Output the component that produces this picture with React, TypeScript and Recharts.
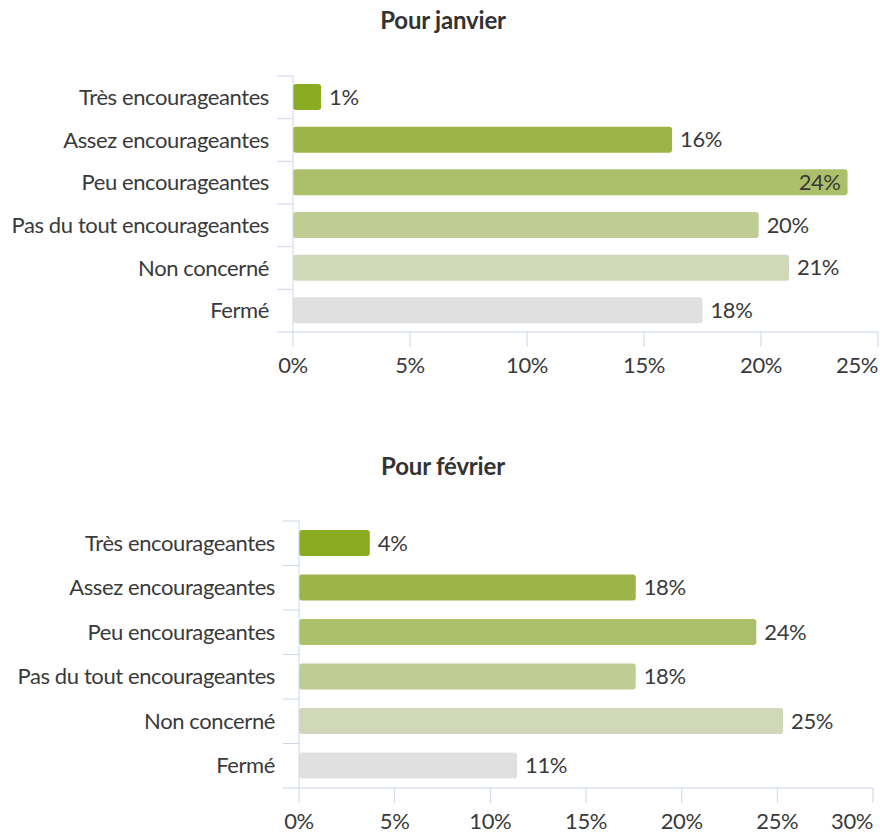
import React from "react";
import { BarChart, Bar, XAxis, YAxis, Cell, LabelList } from "recharts";

const categories = [
  "Très encourageantes",
  "Assez encourageantes",
  "Peu encourageantes",
  "Pas du tout encourageantes",
  "Non concerné",
  "Fermé",
];
const janvierValues = [1.2, 16.2, 23.7, 19.9, 21.2, 17.5];
const janvierLabels = ["1%", "16%", "24%", "20%", "21%", "18%"];
const fevrierValues = [3.7, 17.6, 23.9, 17.6, 25.3, 11.4];
const fevrierLabels = ["4%", "18%", "24%", "18%", "25%", "11%"];
const janvierTicks = [0, 5, 10, 15, 20, 25];
const fevrierTicks = [0, 5, 10, 15, 20, 25, 30];
const colors = ["#8aab22", "#9db548", "#acc06b", "#bfcc94", "#d1d8ba", "#e0e0e0"];

const FONT = "Lato, 'Noto Sans', sans-serif";
const AXIS_COLOR = "#ccd6eb";
const TEXT_COLOR = "#3a3a3a";
const FS = 22;
const LS = -0.4;

type ChartProps = {
  title: string;
  values: number[];
  labels: string[];
  ticks: number[];
  top: number;
  height: number;
  marginTop: number;
  marginBottom: number;
  yWidth: number;
  marginRight: number;
  titleTop: number;
};

function Chart(p: ChartProps) {
  const data = categories.map((c, i) => ({ name: c, value: p.values[i], label: p.labels[i] }));
  const plotTop = p.marginTop;
  const plotBottom = p.height - p.marginBottom - 40;
  const band = (plotBottom - plotTop) / categories.length;
  const plotRight = 880 - p.marginRight;
  const maxTick = p.ticks[p.ticks.length - 1];

  const YTick = (props: any) => {
    const { x, y, payload, index } = props;
    const ax = p.yWidth;
    return (
      <g>
        <line x1={ax - 16} x2={ax} y1={y - band / 2} y2={y - band / 2} stroke={AXIS_COLOR} strokeWidth={1} />
        {index === categories.length - 1 && (
          <line x1={ax - 16} x2={ax} y1={y + band / 2} y2={y + band / 2} stroke={AXIS_COLOR} strokeWidth={1} />
        )}
        <text x={x} y={y} dy="0.35em" textAnchor="end" fill={TEXT_COLOR} fontSize={FS} letterSpacing={LS} fontFamily={FONT}>
          {payload.value}
        </text>
      </g>
    );
  };

  const XTick = (props: any) => {
    const { x, y, payload } = props;
    const last = payload.value === maxTick;
    return (
      <text x={last ? plotRight : x} y={y} dy="0.71em" textAnchor={last ? "end" : "middle"} fill={TEXT_COLOR} fontSize={FS} letterSpacing={LS} fontFamily={FONT}>
        {payload.value + "%"}
      </text>
    );
  };

  const renderLabel = (props: any) => {
    const { x, y, width, height, index } = props;
    const text = p.labels[index];
    const end = x + width;
    const inside = end + 8 + 40 > plotRight;
    return (
      <text
        x={inside ? end - 7 : end + 8}
        y={y + height / 2}
        dy="0.35em"
        textAnchor={inside ? "end" : "start"}
        fill={TEXT_COLOR}
        fontSize={FS}
        letterSpacing={LS}
        fontFamily={FONT}
      >
        {text}
      </text>
    );
  };

  return (
    <>
      <div
        style={{
          position: "absolute",
          top: p.titleTop,
          left: 0,
          width: 886,
          textAlign: "center",
          fontFamily: FONT,
          fontWeight: 700,
          fontSize: 24,
          lineHeight: "24px",
          letterSpacing: -0.2,
          color: "#333",
        }}
      >
        {p.title}
      </div>
      <div style={{ position: "absolute", top: p.top, left: 0 }}>
        <BarChart
          width={880}
          height={p.height}
          data={data}
          layout="vertical"
          margin={{ top: p.marginTop, right: p.marginRight, bottom: p.marginBottom, left: 0 }}
          barSize={26}
        >
          <XAxis
            type="number"
            domain={[0, maxTick]}
            ticks={p.ticks}
            interval={0}
            height={40}
            tickSize={15}
            tickMargin={10}
            axisLine={{ stroke: AXIS_COLOR }}
            tickLine={{ stroke: AXIS_COLOR }}
            tick={<XTick />}
          />
          <YAxis
            type="category"
            dataKey="name"
            width={p.yWidth}
            tickSize={16}
            tickMargin={8}
            tickLine={false}
            axisLine={{ stroke: AXIS_COLOR }}
            interval={0}
            tick={<YTick />}
          />
          <Bar dataKey="value" isAnimationActive={false} radius={3}>
            {data.map((d, i) => (
              <Cell key={i} fill={colors[i]} />
            ))}
            <LabelList dataKey="label" content={renderLabel} />
          </Bar>
        </BarChart>
      </div>
    </>
  );
}

export default function App() {
  return (
    <div style={{ position: "absolute", left: 0, top: 0, width: 880, height: 836, background: "#fff" }}>
      <Chart
        title="Pour janvier"
        values={janvierValues}
        labels={janvierLabels}
        ticks={janvierTicks}
        top={0}
        height={400}
        marginTop={76}
        marginBottom={28}
        yWidth={293}
        marginRight={2}
        titleTop={8}
      />
      <Chart
        title="Pour février"
        values={fevrierValues}
        labels={fevrierLabels}
        ticks={fevrierTicks}
        top={446}
        height={390}
        marginTop={75}
        marginBottom={8}
        yWidth={299}
        marginRight={7}
        titleTop={454}
      />
    </div>
  );
}
